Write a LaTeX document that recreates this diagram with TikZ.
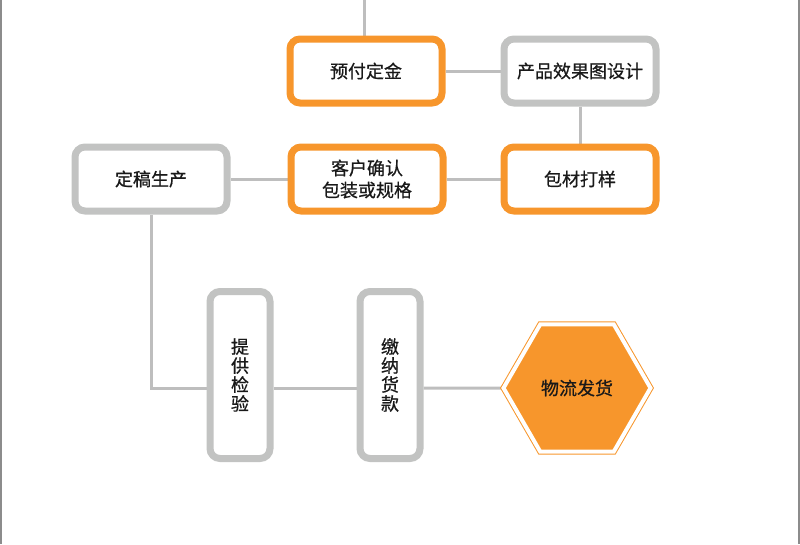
\documentclass[tikz,border=0pt]{standalone}
\usepackage{fontspec}
\setmainfont{Noto Sans CJK SC}[FakeBold=0.7]
\usepackage{xcolor}
\usepackage{tikz}
\usetikzlibrary{shapes.geometric, positioning, backgrounds}
\definecolor{flowOrange}{HTML}{F7962C}
\definecolor{flowGrey}{HTML}{C2C3C2}
\definecolor{linkGrey}{HTML}{BEBEBE}
\definecolor{frameGrey}{HTML}{8C8C8C}

\begin{document}
\begin{tikzpicture}[
					% Picture Styling
					x=1pt, y=-1pt,
					font=\fontsize{18}{22}\selectfont,
					keybox/.style={draw=flowOrange, line width=7pt, rounded corners=10pt, fill=white, minimum width=152pt, minimum height=64pt, align=center, inner sep=2pt, text=black!90},
					plainbox/.style={keybox, draw=flowGrey},
					tallbox/.style={plainbox, minimum width=60pt, minimum height=167pt, font=\fontsize{18}{19}\selectfont},
					goal/.style={regular polygon, regular polygon sides=6, minimum size=147pt, inner sep=0pt, fill=flowOrange, draw=flowOrange, line width=1pt, double=white, double distance=4pt, text=black!90},
					link/.style={draw=linkGrey, line width=3pt},
					frame/.style={draw=frameGrey, line width=1.5pt}
				]
				\useasboundingbox (0,0) rectangle (800,544);
				% Marco de la pagina
				\draw[frame] (0.8,0) -- (0.8,544);
				\draw[frame] (798.8,0) -- (798.8,544);
				% Etapas superiores
				\node[keybox] (yufu) at (366,71) {预付定金};
				\node[plainbox, right=55pt of yufu] (xiaoguo) {产品效果图设计};
				\node[keybox, below=37pt of xiaoguo] (baocai) {包材打样};
				\node[keybox, left=54pt of baocai] (kehu) {客户确认\\包装或规格};
				\node[plainbox, left=57pt of kehu] (dinggao) {定稿生产};
				% Etapas inferiores
				\node[tallbox] (tigong) at (240,375) {提\\供\\检\\验};
				\node[tallbox, right=83pt of tigong] (jiaona) {缴\\纳\\货\\款};
				\node[goal] (wuliu) at (577,388) {物流发货};
				\coordinate (feed) at (364,0);
				% Conectores
				\begin{scope}[on background layer]
					\draw[link] (feed) -- (feed |- yufu.north);
					\draw[link] (yufu) -- (xiaoguo);
					\draw[link] (xiaoguo) -- (baocai);
					\draw[link] (baocai) -- (kehu);
					\draw[link] (kehu) -- (dinggao);
					\draw[link] (dinggao.south) |- (tigong.west |- wuliu);
					\draw[link] (tigong.east |- wuliu) -- (jiaona.west |- wuliu);
					\draw[link] (jiaona.east |- wuliu) -- (wuliu.west);
				\end{scope}
			\end{tikzpicture}
\end{document}
